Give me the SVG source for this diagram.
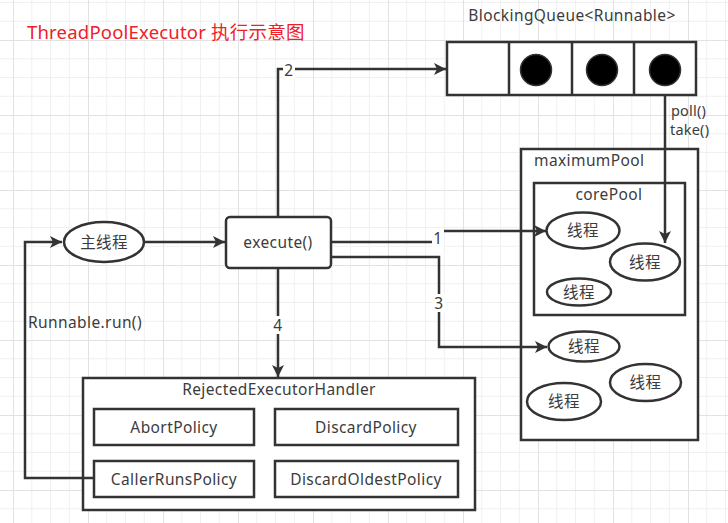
<svg xmlns="http://www.w3.org/2000/svg" width="728" height="523" viewBox="0 0 728 523">
<defs>
<pattern id="grid" patternUnits="userSpaceOnUse" x="13" y="40" width="75" height="75">
<path d="M18.75 0V75M37.5 0V75M56.25 0V75M0 18.75H75M0 37.5H75M0 56.25H75" stroke="#f0f0f0" stroke-width="1" fill="none"/>
<path d="M0.5 0V75M0 0.5H75" stroke="#e2e2e2" stroke-width="1" fill="none"/>
</pattern>
<marker id="arr" markerUnits="userSpaceOnUse" markerWidth="14" markerHeight="12" refX="12" refY="6" orient="auto">
<path d="M0 0L12 6L0 12L3 6Z" fill="#333"/>
</marker>
<style>
.t{font-family:"Noto Sans","Noto Sans CJK SC",sans-serif;font-size:15.5px;letter-spacing:0.4px;fill:#3c3c3c;}
.s{font-size:14.5px;letter-spacing:0.2px;}
.c{text-anchor:middle;}
.box{fill:#fff;stroke:#333;stroke-width:2.5;}
.ln{fill:none;stroke:#333;stroke-width:2.5;}
.lb{fill:#fff;}
</style>
</defs>
<rect width="728" height="523" fill="#fff"/>
<rect width="728" height="523" fill="url(#grid)"/>

<text x="27" y="39" style="font-family:'Noto Sans','Noto Sans CJK SC',sans-serif;font-size:18.5px;letter-spacing:0.2px;fill:#f0202a">ThreadPoolExecutor 执行示意图</text>

<g id="queue">
<text class="t c" x="572" y="21">BlockingQueue&lt;Runnable&gt;</text>
<rect class="box" x="447" y="42" width="249" height="53"/>
<path class="ln" d="M509 42V95M572 42V95M634 42V95"/>
<circle cx="536" cy="70" r="15.5" fill="#000" stroke="#333" stroke-width="1.5"/>
<circle cx="602" cy="70" r="15.5" fill="#000" stroke="#333" stroke-width="1.5"/>
<circle cx="665" cy="70" r="15.5" fill="#000" stroke="#333" stroke-width="1.5"/>
</g>

<g id="main-thread">
<ellipse class="box" cx="104" cy="242" rx="40" ry="20"/>
<text class="t c" x="104" y="247.5">主线程</text>
</g>

<g id="execute">
<rect class="box" x="226" y="217" width="105" height="51" rx="4"/>
<text class="t c" x="278" y="247.5">execute()</text>
</g>

<g id="maximumPool">
<rect class="box" x="521" y="149" width="177" height="291"/>
<text class="t" x="534" y="166">maximumPool</text>
</g>

<g id="corePool">
<rect class="box" x="534" y="183" width="151" height="132"/>
<text class="t c" x="609" y="200">corePool</text>
</g>

<g id="thread1"><ellipse class="box" cx="583" cy="230.5" rx="36.5" ry="18"/><text class="t c" x="583" y="236">线程</text></g>
<g id="thread2"><ellipse class="box" cx="645" cy="262" rx="35" ry="18.5"/><text class="t c" x="645" y="267.5">线程</text></g>
<g id="thread3"><ellipse class="box" cx="579" cy="292" rx="32" ry="13.5"/><text class="t c" x="579" y="297.5">线程</text></g>
<g id="thread4"><ellipse class="box" cx="584" cy="346.5" rx="35.5" ry="15"/><text class="t c" x="584" y="352">线程</text></g>
<g id="thread5"><ellipse class="box" cx="645.5" cy="382.5" rx="35.5" ry="18.5"/><text class="t c" x="645.5" y="388">线程</text></g>
<g id="thread6"><ellipse class="box" cx="564" cy="401.5" rx="37" ry="18.5"/><text class="t c" x="564" y="407">线程</text></g>

<g id="rejected">
<rect class="box" x="83" y="378" width="392" height="132"/>
<text class="t c" x="279" y="395">RejectedExecutorHandler</text>
</g>
<g id="abort"><rect class="box" x="94" y="409" width="160" height="36"/><text class="t c" x="174" y="432.5">AbortPolicy</text></g>
<g id="discard"><rect class="box" x="275" y="409" width="183" height="36"/><text class="t c" x="366" y="432.5">DiscardPolicy</text></g>
<g id="callerRuns"><rect class="box" x="94" y="461" width="160" height="36"/><text class="t c" x="174" y="484.5">CallerRunsPolicy</text></g>
<g id="discardOldest"><rect class="box" x="275" y="461" width="183" height="36"/><text class="t c" x="366" y="484.5">DiscardOldestPolicy</text></g>

<g id="connectors">
<path class="ln" d="M278 216V69H446" marker-end="url(#arr)"/>
<path class="ln" d="M665 95V243" marker-end="url(#arr)"/>
<path class="ln" d="M144 242H225" marker-end="url(#arr)"/>
<path class="ln" d="M331 242H438V231H546" marker-end="url(#arr)"/>
<path class="ln" d="M331 257H439V347H547" marker-end="url(#arr)"/>
<path class="ln" d="M278 268V377" marker-end="url(#arr)"/>
<path class="ln" d="M95 478H25V242H62" marker-end="url(#arr)"/>
<rect class="lb" x="283" y="60" width="12" height="18"/>
<text class="t c" x="289" y="75.5">2</text>
<rect class="lb" x="432" y="229" width="12" height="18"/>
<text class="t c" x="438" y="244">1</text>
<rect class="lb" x="433" y="294" width="12" height="18"/>
<text class="t c" x="439" y="309">3</text>
<rect class="lb" x="272" y="316" width="12" height="18"/>
<text class="t c" x="278" y="331">4</text>
<text class="t" x="28" y="327.5">Runnable.run()</text>
<text class="t s" x="671" y="115.5">poll()</text>
<text class="t s" x="670" y="135">take()</text>
</g>
</svg>
